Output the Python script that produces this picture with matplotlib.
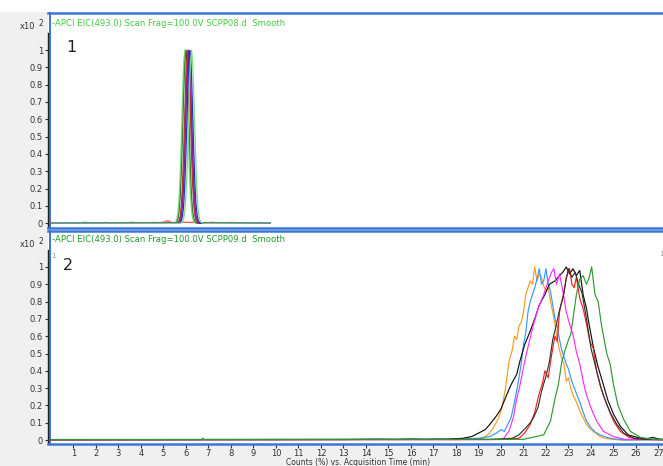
import matplotlib
matplotlib.use("Agg")
import matplotlib.pyplot as plt
from matplotlib.lines import Line2D
from matplotlib.patches import Rectangle

W, H = 663, 466

TITLE_1 = "-APCI EIC(493.0) Scan Frag=100.0V SCPP08.d  Smooth"
TITLE_2 = "-APCI EIC(493.0) Scan Frag=100.0V SCPP09.d  Smooth"
XLABEL = "Counts (%) vs. Acquisition Time (min)"
YTICKS = [0, 0.1, 0.2, 0.3, 0.4, 0.5, 0.6, 0.7, 0.8, 0.9, 1.0]
YLABELS = ["0", "0.1", "0.2", "0.3", "0.4", "0.5", "0.6", "0.7", "0.8", "0.9", "1"]
XTICKS = list(range(1, 28))

# ---- panel 1 (SCPP08): narrow peaks around 6 min ----
TOP_T = [0.0, 5.5, 5.55, 5.6, 5.65, 5.7, 5.75, 5.8, 5.85, 5.9, 5.95, 6.0, 6.05, 6.1,
         6.15, 6.2, 6.25, 6.3, 6.35, 6.4, 6.45, 6.5, 6.55, 6.6, 6.65, 6.7, 6.75, 6.8,
         6.85, 6.9, 9.75]
TOP_LIME_A = [0.002, 0.003, 0.009, 0.027, 0.07, 0.157, 0.306, 0.514, 0.744, 0.929, 1.0,
              0.929, 0.744, 0.514, 0.306, 0.157, 0.07, 0.027, 0.009, 0.003, 0.001,
              0.0, 0.0, 0.0, 0.0, 0.0, 0.0, 0.0, 0.0, 0.0, 0.002]
TOP_DKGREEN = [0.002, 0.001, 0.003, 0.009, 0.027, 0.07, 0.157, 0.306, 0.514, 0.744, 0.929,
               1.0, 0.929, 0.744, 0.514, 0.306, 0.157, 0.07, 0.027, 0.009, 0.003, 0.001,
               0.0, 0.0, 0.0, 0.0, 0.0, 0.0, 0.0, 0.0, 0.002]
TOP_BROWN = [0.002, 0.0, 0.0, 0.001, 0.005, 0.016, 0.044, 0.107, 0.224, 0.404, 0.63, 0.847,
             0.995, 0.995, 0.847, 0.63, 0.404, 0.224, 0.107, 0.044, 0.016, 0.005, 0.001,
             0.0, 0.0, 0.0, 0.0, 0.0, 0.0, 0.0, 0.002]
TOP_RED = [0.002, 0.0, 0.0, 0.001, 0.003, 0.009, 0.027, 0.07, 0.157, 0.306, 0.514, 0.744,
           0.929, 1.0, 0.929, 0.744, 0.514, 0.306, 0.157, 0.07, 0.027, 0.009, 0.003, 0.001,
           0.0, 0.0, 0.0, 0.0, 0.0, 0.0, 0.002]
TOP_PURPLE = [0.002, 0.0, 0.0, 0.0, 0.001, 0.005, 0.016, 0.044, 0.107, 0.224, 0.404, 0.63,
              0.847, 0.995, 0.995, 0.847, 0.63, 0.404, 0.224, 0.107, 0.044, 0.016, 0.005,
              0.001, 0.0, 0.0, 0.0, 0.0, 0.0, 0.0, 0.002]
TOP_BLUE = [0.002, 0.0, 0.0, 0.0, 0.0, 0.001, 0.005, 0.016, 0.044, 0.107, 0.224, 0.404, 0.63,
            0.847, 0.995, 0.995, 0.847, 0.63, 0.404, 0.224, 0.107, 0.044, 0.016, 0.005,
            0.001, 0.0, 0.0, 0.0, 0.0, 0.0, 0.002]
TOP_LIME_B = [0.002, 0.0, 0.0, 0.0, 0.0, 0.0, 0.001, 0.003, 0.009, 0.027, 0.07, 0.157, 0.306,
              0.514, 0.744, 0.929, 1.0, 0.929, 0.744, 0.514, 0.306, 0.157, 0.07, 0.027,
              0.009, 0.003, 0.001, 0.0, 0.0, 0.0, 0.002]

# noisy red baseline of panel 1
BASE_T = [0.0, 0.3, 0.6, 0.9, 1.2, 1.5, 1.8, 2.1, 2.4, 2.7, 3.0, 3.3, 3.6, 3.9, 4.2, 4.5,
          4.8, 5.0, 5.1, 5.2, 5.3, 5.4, 5.6, 5.8, 6.6, 6.9, 7.2, 7.5, 7.8, 8.1, 8.4, 8.7,
          9.0, 9.3, 9.6, 9.75]
BASE_RED = [0.004, 0.002, 0.005, 0.003, 0.002, 0.006, 0.003, 0.002, 0.005, 0.003, 0.004,
            0.002, 0.006, 0.003, 0.002, 0.005, 0.004, 0.006, 0.011, 0.015, 0.008, 0.005,
            0.004, 0.006, 0.005, 0.003, 0.006, 0.002, 0.004, 0.005, 0.002, 0.004, 0.003,
            0.005, 0.002, 0.004]

# ---- panel 2 (SCPP09): broad noisy peaks 20-25 min ----
ORANGE_T = [0.0, 18.5, 19.2, 19.5, 19.7, 19.9, 20.05, 20.2, 20.35, 20.5, 20.6, 20.7, 20.8,
            20.9, 21.0, 21.1, 21.2, 21.3, 21.4, 21.5, 21.6, 21.7, 21.8, 21.9, 22.0, 22.1,
            22.2, 22.3, 22.4, 22.5, 22.6, 22.7, 22.8, 22.9, 23.0, 23.1, 23.2, 23.35, 23.5,
            23.65, 23.8, 24.0, 24.2, 24.4, 24.6, 24.9, 25.3, 27.2]
ORANGE = [0.002, 0.003, 0.01, 0.04, 0.08, 0.13, 0.19, 0.30, 0.45, 0.52, 0.60, 0.58, 0.66,
          0.68, 0.74, 0.84, 0.88, 0.92, 0.90, 1.0, 0.92, 0.96, 0.94, 0.89, 0.86, 0.88, 0.80,
          0.74, 0.67, 0.58, 0.52, 0.47, 0.44, 0.34, 0.36, 0.30, 0.26, 0.22, 0.17, 0.13,
          0.09, 0.06, 0.04, 0.02, 0.01, 0.005, 0.0, 0.002]

BLUE_T = [0.0, 6.7, 6.75, 6.8, 13.0, 14.5, 15.3, 16.0, 16.6, 17.2, 18.0, 19.0, 19.5, 19.8,
          20.0, 20.15, 20.3, 20.45, 20.6, 20.75, 20.9, 21.0, 21.1, 21.2, 21.3, 21.4, 21.5,
          21.6, 21.7, 21.8, 21.9, 22.0, 22.1, 22.2, 22.3, 22.4, 22.5, 22.6, 22.7, 22.8,
          22.9, 23.0, 23.1, 23.2, 23.35, 23.5, 23.6, 23.8, 24.0, 24.2, 24.4, 24.7, 25.0,
          25.5, 27.2]
BLUE = [0.002, 0.002, 0.012, 0.002, 0.002, 0.006, 0.003, 0.008, 0.004, 0.007, 0.005, 0.01,
        0.02, 0.04, 0.06, 0.05, 0.09, 0.13, 0.22, 0.32, 0.44, 0.55, 0.62, 0.74, 0.80, 0.84,
        0.88, 0.93, 0.99, 0.90, 0.92, 0.99, 0.90, 0.86, 0.78, 0.70, 0.66, 0.58, 0.52, 0.48,
        0.44, 0.41, 0.36, 0.32, 0.27, 0.22, 0.18, 0.11, 0.07, 0.045, 0.03, 0.015, 0.007,
        0.0, 0.002]

BLACK1_T = [0.0, 17.5, 18.3, 18.7, 19.0, 19.3, 19.5, 19.8, 20.0, 20.25, 20.45, 20.7, 20.85,
            21.05, 21.3, 21.5, 21.7, 21.95, 22.15, 22.4, 22.6, 22.75, 22.9, 23.05, 23.2,
            23.35, 23.5, 23.65, 23.8, 23.9, 24.1, 24.3, 24.55, 24.75, 25.0, 25.3, 25.65,
            26.2, 26.5, 26.75, 27.0, 27.2]
BLACK1 = [0.002, 0.004, 0.01, 0.02, 0.04, 0.06, 0.09, 0.14, 0.18, 0.26, 0.32, 0.38, 0.46,
          0.55, 0.63, 0.70, 0.78, 0.84, 0.90, 0.92, 0.95, 0.97, 1.0, 0.96, 0.99, 0.95, 0.98,
          0.84, 0.76, 0.68, 0.54, 0.43, 0.32, 0.23, 0.15, 0.08, 0.03, 0.01, 0.008, 0.015,
          0.006, 0.004]

BLACK2_T = [0.0, 19.5, 20.5, 20.8, 21.1, 21.3, 21.45, 21.65, 21.8, 22.0, 22.15, 22.3, 22.45,
            22.6, 22.75, 22.9, 23.0, 23.15, 23.3, 23.45, 23.6, 23.8, 24.0, 24.25, 24.45,
            24.6, 24.85, 25.15, 25.45, 25.9, 26.4, 27.2]
BLACK2 = [0.002, 0.003, 0.01, 0.03, 0.07, 0.10, 0.13, 0.19, 0.28, 0.37, 0.45, 0.58, 0.66,
          0.75, 0.82, 0.93, 0.99, 0.94, 0.97, 0.90, 0.85, 0.70, 0.53, 0.40, 0.30, 0.24, 0.16,
          0.09, 0.04, 0.01, 0.004, 0.002]

RED_T = [0.0, 20.0, 20.8, 21.05, 21.3, 21.5, 21.7, 21.85, 21.95, 22.1, 22.2, 22.3, 22.4,
         22.5, 22.6, 22.7, 22.8, 22.9, 23.05, 23.15, 23.25, 23.35, 23.5, 23.65, 23.8, 23.95,
         24.1, 24.25, 24.4, 24.55, 24.75, 25.0, 25.3, 25.7, 26.2, 27.2]
RED = [0.002, 0.003, 0.01, 0.04, 0.09, 0.16, 0.27, 0.33, 0.40, 0.36, 0.45, 0.53, 0.60, 0.57,
       0.74, 0.80, 0.85, 0.94, 0.99, 0.90, 0.88, 0.94, 0.82, 0.76, 0.67, 0.57, 0.53, 0.40,
       0.32, 0.26, 0.19, 0.11, 0.05, 0.015, 0.004, 0.002]

MAGENTA_T = [0.0, 19.8, 20.1, 20.35, 20.55, 20.7, 20.85, 21.0, 21.15, 21.3, 21.45, 21.65,
             21.9, 22.1, 22.25, 22.35, 22.47, 22.6, 22.75, 22.9, 23.05, 23.2, 23.35, 23.5,
             23.65, 23.8, 24.0, 24.25, 24.55, 25.0, 25.5, 27.2]
MAGENTA = [0.002, 0.003, 0.006, 0.05, 0.13, 0.24, 0.32, 0.42, 0.51, 0.59, 0.67, 0.76, 0.84,
           0.92, 0.97, 0.99, 0.90, 0.96, 0.86, 0.74, 0.67, 0.61, 0.51, 0.44, 0.34, 0.26,
           0.185, 0.11, 0.05, 0.02, 0.004, 0.002]

GREEN_T = [0.0, 21.0, 21.9, 22.2, 22.4, 22.55, 22.7, 22.85, 23.0, 23.1, 23.2, 23.35, 23.5,
           23.65, 23.8, 23.9, 24.03, 24.18, 24.32, 24.47, 24.6, 24.7, 24.85, 25.0, 25.2,
           25.45, 25.75, 26.2, 26.7, 27.2]
GREEN = [0.003, 0.004, 0.03, 0.11, 0.24, 0.32, 0.45, 0.52, 0.58, 0.61, 0.70, 0.84, 0.93,
         0.95, 0.90, 0.93, 1.0, 0.84, 0.80, 0.66, 0.57, 0.50, 0.44, 0.32, 0.20, 0.12, 0.05,
         0.015, 0.005, 0.003]

TOP_SERIES = [
    (BASE_T, BASE_RED, "#ff5050"),
    (TOP_T, TOP_LIME_A, "#7ddc7d"),
    (TOP_T, TOP_DKGREEN, "#2e8b2e"),
    (TOP_T, TOP_BROWN, "#8b2a2a"),
    (TOP_T, TOP_RED, "#ff3030"),
    (TOP_T, TOP_PURPLE, "#8a1a9a"),
    (TOP_T, TOP_BLUE, "#2030d8"),
    (TOP_T, TOP_LIME_B, "#7ddc7d"),
]
BOT_SERIES = [
    (ORANGE_T, ORANGE, "#ff9a1e"),
    (BLUE_T, BLUE, "#3398ff"),
    (BLACK1_T, BLACK1, "#111111"),
    (MAGENTA_T, MAGENTA, "#ff2cff"),
    (RED_T, RED, "#ff1e1e"),
    (BLACK2_T, BLACK2, "#333333"),
    (GREEN_T, GREEN, "#2f9a2f"),
]

FRAME = "#3a76d6"
GRAY_BG = "#f0f0f0"


def box(x0, y0, x1, y1):
    """Pixel box (top-left origin) -> figure fraction rect."""
    return [x0 / W, 1 - y1 / H, (x1 - x0) / W, (y1 - y0) / H]


def ftext(x, y, s, **kw):
    return fig.text(x / W, 1 - y / H, s, **kw)


def setup(ax, ylo, yhi):
    ax.set_xlim(-0.13, 27.2)
    ax.set_ylim(ylo, yhi)
    ax.set_yticks(YTICKS)
    ax.set_yticklabels(YLABELS, fontsize=6, color="#333")
    ax.tick_params(axis="y", direction="out", length=2.4, width=0.8, pad=1.2, color="#333")
    ax.spines["right"].set_visible(False)
    ax.spines["left"].set_color("#222")
    ax.spines["left"].set_linewidth(1.0)
    ax.spines["left"].set_bounds(ylo, 1.1)
    for s in ("top", "bottom"):
        ax.spines[s].set_color(FRAME)
        ax.spines[s].set_linewidth(1.8)
    # blue frame just right of the black y axis
    ax.add_line(Line2D([0.0035, 0.0035], [0, 1], transform=ax.transAxes, color=FRAME,
                       lw=1.4, clip_on=False))


fig = plt.figure(figsize=(W / 100, H / 100), dpi=100, facecolor="white")
fig.patches.append(Rectangle((0, 0), 48 / W, 1 - 12 / H, transform=fig.transFigure,
                             facecolor=GRAY_BG, edgecolor="none", zorder=-1))
fig.patches.append(Rectangle((0, 0), 1, (H - 445) / H, transform=fig.transFigure,
                             facecolor=GRAY_BG, edgecolor="none", zorder=-1))

ax1 = fig.add_axes(box(48, 13, 663, 228))
setup(ax1, -0.027, 1.2135)
ax1.tick_params(axis="x", bottom=False, labelbottom=False)
for t, v, c in TOP_SERIES:
    ax1.plot(t, v, color=c, lw=0.9)

ax2 = fig.add_axes(box(48, 231, 663, 444))
setup(ax2, -0.023, 1.208)
ax2.set_xticks(XTICKS)
ax2.set_xticklabels([str(x) for x in XTICKS], fontsize=6, color="#333")
ax2.tick_params(axis="x", direction="out", length=3, width=0.8, pad=0.8, color="#333")
for t, v, c in BOT_SERIES:
    ax2.plot(t, v, color=c, lw=0.85)

# panel headers
ftext(52, 23.5, TITLE_1, ha="left", va="center", fontsize=6.1, color="#44cc44")
ftext(52, 240, TITLE_2, ha="left", va="center", fontsize=6.1, color="#22992a")
for y in (26.5, 244.5):
    ftext(35, y, "x10", ha="right", va="center", fontsize=6, color="#333")
    ftext(41, y - 3.5, "2", ha="center", va="center", fontsize=5.5, color="#333")
ftext(71.5, 47.5, "1", ha="center", va="center", fontsize=11.5, color="#222")
ftext(68, 265.5, "2", ha="center", va="center", fontsize=11.5, color="#222")
ftext(53.5, 255.5, "1", ha="center", va="center", fontsize=5, color="#999")
ftext(661, 254, "1", ha="center", va="center", fontsize=5, color="#999")
ftext(358, 458.3, XLABEL, ha="center", va="top", fontsize=5.5, color="#333")

fig.savefig("out.png", dpi=100, facecolor=fig.get_facecolor())
